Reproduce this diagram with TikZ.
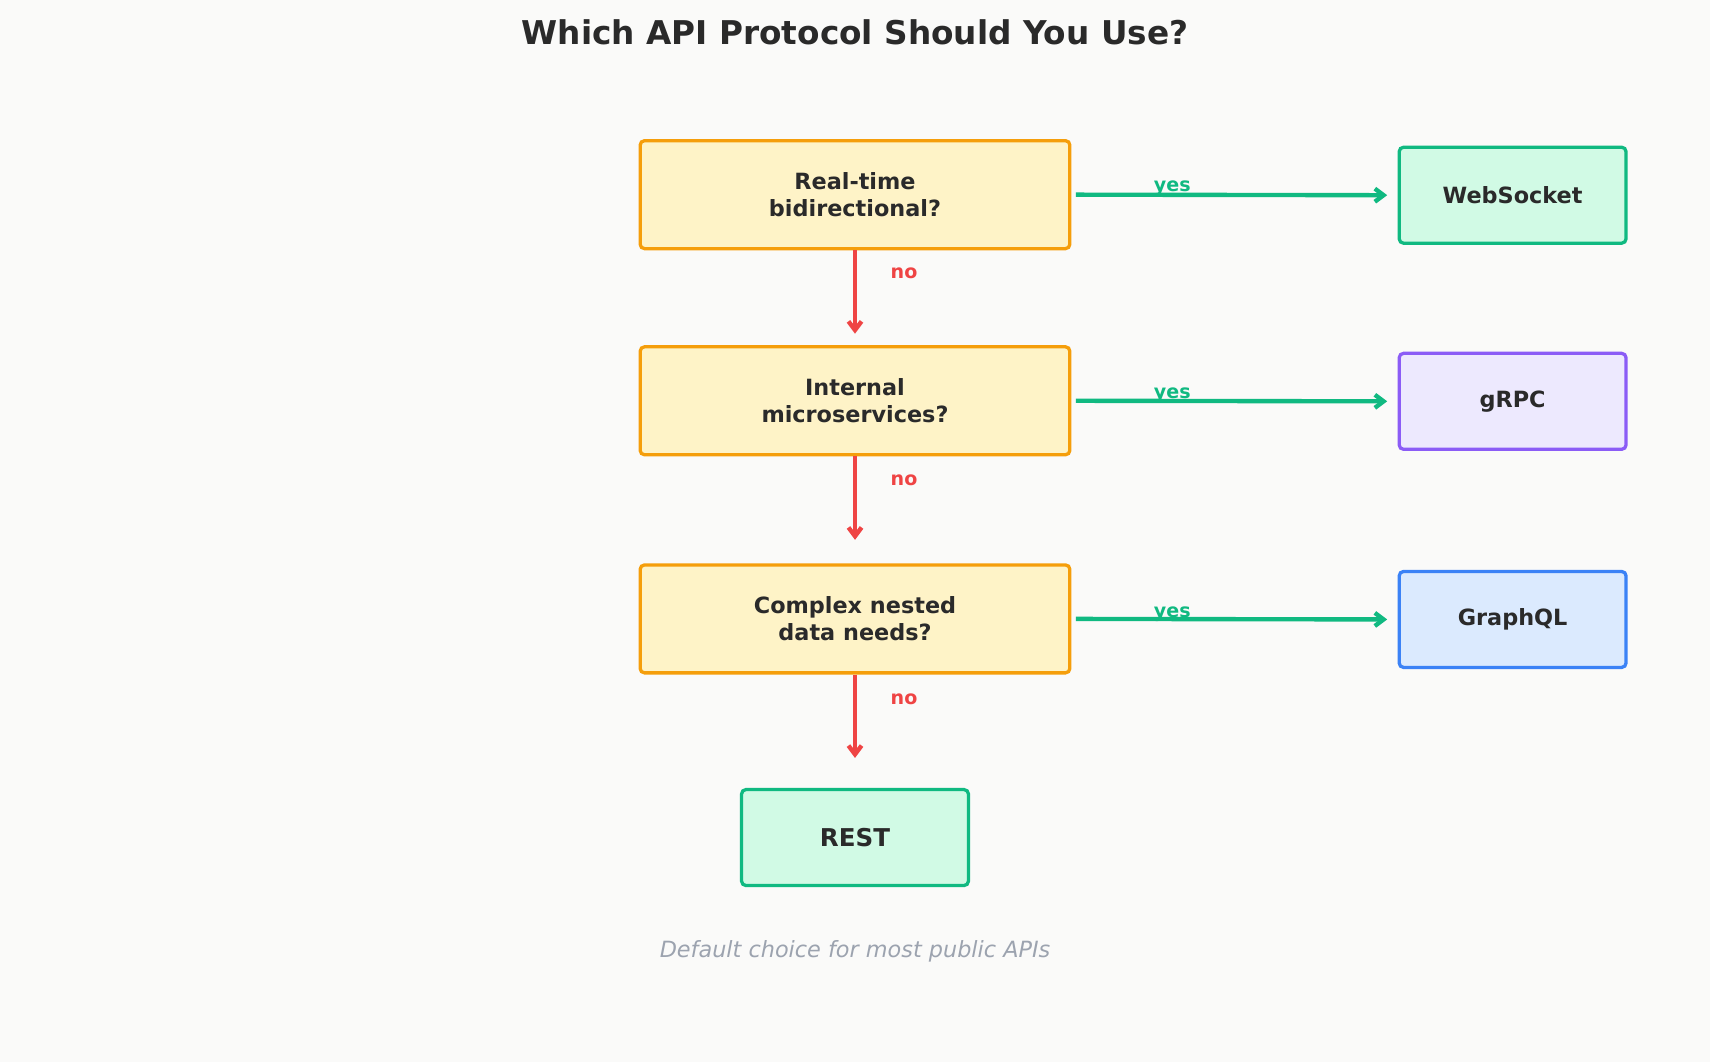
\documentclass[tikz,border=0pt]{standalone}
\usepackage{fontspec}
\setmainfont{DejaVu Sans}
\usetikzlibrary{arrows.meta}
\definecolor{bg}{HTML}{FAFAF9}
\definecolor{qfill}{HTML}{FEF3C7}\definecolor{qdraw}{HTML}{F59E0B}
\definecolor{gfill}{HTML}{D1FAE5}\definecolor{gdraw}{HTML}{10B981}
\definecolor{pfill}{HTML}{EDE9FE}\definecolor{pdraw}{HTML}{8B5CF6}
\definecolor{bfill}{HTML}{DBEAFE}\definecolor{bdraw}{HTML}{3B82F6}
\definecolor{red}{HTML}{EF4444}\definecolor{txt}{HTML}{2A2A2A}\definecolor{gr}{HTML}{9CA3AF}
\tikzset{
 box/.style={draw, line width=3pt, rounded corners=4pt, align=center, text=txt, font=\bfseries\fontsize{20.5}{25}\selectfont, inner sep=0pt},
 q/.style={box, fill=qfill, draw=qdraw, minimum width=394pt, minimum height=99pt},
 a/.style={box, minimum width=208pt, minimum height=88pt},
 yes/.style={draw=gdraw, line width=4pt, -{Straight Barb[length=8pt,width=12pt]}},
 no/.style={draw=red, line width=4pt, -{Straight Barb[length=8pt,width=12pt]}},
 lab/.style={font=\bfseries\fontsize{17.5}{20}\selectfont}
}
\begin{document}
\begin{tikzpicture}[x=1pt,y=-1pt]
\fill[bg] (0,0) rectangle (1568,974);
\useasboundingbox (0,0) rectangle (1568,974);
\node[font=\bfseries\fontsize{30}{36}\selectfont, text=txt] (title) at (784,30) {Which API Protocol Should You Use?};
\node[q] (q1) at (784,178.5) {Real-time\\bidirectional?};
\node[q] (q2) at (784,367.5) {Internal\\microservices?};
\node[q] (q3) at (784,567.5) {Complex nested\\data needs?};
\node[a, fill=gfill, draw=gdraw] (ws) at (1387,179) {WebSocket};
\node[a, fill=pfill, draw=pdraw] (grpc) at (1387,368) {gRPC};
\node[a, fill=bfill, draw=bdraw] (gql) at (1387,568) {GraphQL};
\node[a, fill=gfill, draw=gdraw, font=\bfseries\fontsize{22.5}{26}\selectfont] (rest) at (784,768) {REST};
\coordinate (e1) at (1272,179);\coordinate (e2) at (1272,368);\coordinate (e3) at (1272,568);
\draw[yes] ([xshift=4pt]q1.east) -- (e1);
\draw[yes] ([xshift=4pt]q2.east) -- (e2);
\draw[yes] ([xshift=4pt]q3.east) -- (e3);
\coordinate (d1) at (784,306);\coordinate (d2) at (784,495);\coordinate (d3) at (784,695);
\draw[no] (q1.south) -- (d1);
\draw[no] (q2.south) -- (d2);
\draw[no] (q3.south) -- (rest.north |- d3);
\node[lab, text=gdraw] (y1) at (1075,173) {yes};
\node[lab, text=gdraw] (y2) at (1075,362) {yes};
\node[lab, text=gdraw] (y3) at (1075,563) {yes};
\node[lab, text=red] (n1) at (829,251) {no};
\node[lab, text=red] (n2) at (829,440) {no};
\node[lab, text=red] (n3) at (829,641) {no};
\node[font=\itshape\fontsize{20.5}{24}\selectfont, text=gr] (foot) at (784,872) {Default choice for most public APIs};
\end{tikzpicture}
\end{document}
